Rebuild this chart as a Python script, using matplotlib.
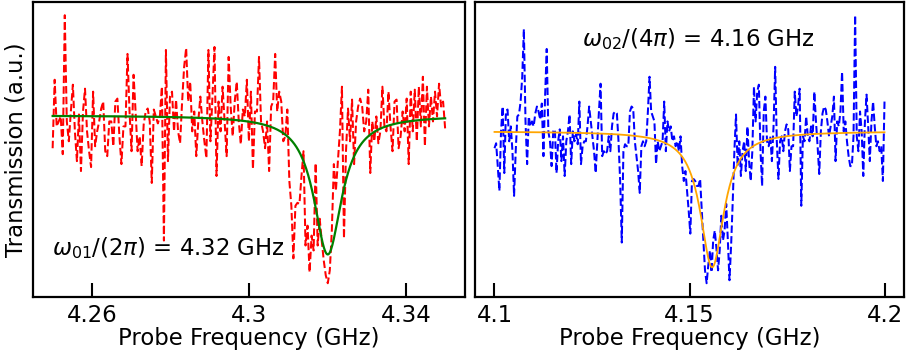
import numpy as np
import matplotlib
matplotlib.use("Agg")
import matplotlib.pyplot as plt

# ---- data (transmission in arbitrary units) ----
left_freq_start, left_freq_stop = 4.25, 4.35
left_trans = [
    153,222,175,180,185,147,287,180,160,190,217,170,140,187,130,190,213,170,150,134,
    210,155,170,180,193,200,150,145,180,180,155,200,203,165,137,175,175,248,190,150,
    227,190,150,165,135,177,190,193,180,118,192,185,178,185,215,60,252,140,205,210,170,
    202,170,158,200,235,254,200,220,170,190,145,180,205,180,160,143,252,160,205,255,
    125,200,170,215,180,145,245,195,165,200,220,180,157,192,185,222,160,210,132,190,
    190,245,180,170,153,180,130,195,200,248,190,210,200,160,165,192,120,95,42,95,
    98,97,125,150,
    55,75,28,65,50,138,55,82,60,40,25,17,30,70,137,110,140,170,215,62,
    150,193,160,202,137,180,195,203,195,170,180,212,128,180,160,185,158,170,215,175,
    170,210,175,150,200,202,153,165,190,170,203,137,210,170,212,160,215,175,225,155,
    215,175,205,180,210,185,218,195,200,173,
]

right_freq_start, right_freq_stop = 4.10, 4.20
right_trans = [
    153,158,135,110,170,195,128,190,192,160,175,150,105,150,185,187,200,225,273,180,
    137,185,175,180,175,188,195,190,182,198,145,205,253,170,160,135,170,172,128,160,
    172,140,165,125,160,170,187,137,170,160,167,157,200,137,155,160,160,175,195,180,
    165,150,128,160,190,218,145,150,147,150,165,150,175,188,190,188,160,120,58,
    150,157,155,155,190,195,193,160,145,130,108,155,160,155,160,190,225,190,185,180,
    137,160,150,155,160,200,150,180,170,175,160,165,155,160,150,165,135,120,130,110,
    90,67,120,122,120,115,115,122,90,60,30,17,35,50,28,60,70,52,30,50,
    85,60,70,97,60,20,55,100,150,187,135,160,125,150,160,130,175,140,120,150,215,
    180,210,217,150,115,190,205,160,155,165,140,175,235,160,122,160,165,150,170,177,
    172,130,155,155,210,185,195,213,95,165,160,185,165,160,175,165,210,180,155,127,
    170,188,195,192,180,165,175,185,205,140,180,175,190,230,170,180,160,145,135,135,
    165,287,165,150,190,170,125,180,207,175,140,180,200,175,155,160,150,155,120,200,
]

# Lorentzian fit parameters
left_fit = dict(center=4.3201, hwhm=0.00433, depth=140.0, baseline=186.0)
right_fit = dict(center=4.1558, hwhm=0.00368, depth=137.0, baseline=170.0)

left_ticks = [4.26, 4.30, 4.34]
left_ticklabels = ["4.26", "4.3", "4.34"]
right_ticks = [4.10, 4.15, 4.20]
right_ticklabels = ["4.1", "4.15", "4.2"]

left_note = r"$\omega_{01}/(2\pi)$ = 4.32 GHz"
right_note = r"$\omega_{02}/(4\pi)$ = 4.16 GHz"


def lorentz(f, center, hwhm, depth, baseline):
    return baseline - depth / (1.0 + ((f - center) / hwhm) ** 2)


plt.rcParams['font.family'] = ['DejaVu Sans']
plt.rcParams['font.size'] = 16.4
plt.rcParams['mathtext.fontset'] = 'dejavusans'

fig = plt.figure(figsize=(9.07, 3.60), dpi=100)
axL = fig.add_axes([0.0364, 0.176, 0.476, 0.819])
axR = fig.add_axes([0.5237, 0.176, 0.473, 0.819])

panels = [
    (axL, left_freq_start, left_freq_stop, left_trans, left_fit, 'red', 'green', 1.6,
     left_ticks, left_ticklabels, left_note, (0.044, 0.164)),
    (axR, right_freq_start, right_freq_stop, right_trans, right_fit, 'blue', 'orange', 1.3,
     right_ticks, right_ticklabels, right_note, (0.249, 0.873)),
]

for ax, f0, f1, trans, fit, dcol, fcol, flw, ticks, tlabels, note, npos in panels:
    freq = np.linspace(f0, f1, len(trans))
    ax.plot(freq, trans, '--', color=dcol, lw=1.45)
    ffit = np.linspace(f0, f1, 600)
    ax.plot(ffit, lorentz(ffit, **fit), '-', color=fcol, lw=flw)
    ax.set_xticks(ticks)
    ax.set_xticklabels(tlabels)
    ax.set_yticks([])
    ax.tick_params(axis='x', direction='in', length=10, width=1.5, top=False, pad=5)
    for s in ax.spines.values():
        s.set_linewidth(1.6)
    ax.set_xlabel("Probe Frequency (GHz)", labelpad=0)
    ax.text(npos[0], npos[1], note, transform=ax.transAxes, ha='left', va='center')

axL.set_ylabel("Transmission (a.u.)", labelpad=4)

fig.savefig("out.png", dpi=100)
